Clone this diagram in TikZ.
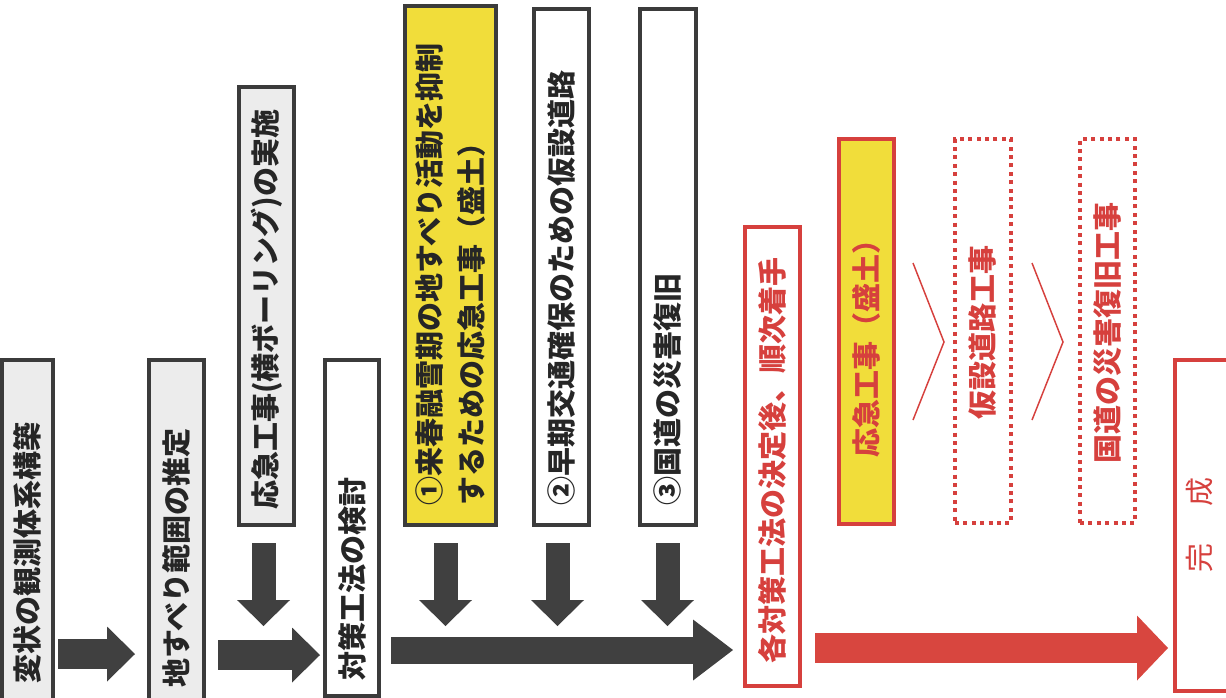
\documentclass[tikz,border=0pt]{standalone}
\usepackage{fontspec}
\setmainfont{Noto Sans CJK JP}
\usetikzlibrary{arrows.meta,calc}
\definecolor{dk}{HTML}{3B3B3B}
\definecolor{arr}{HTML}{404040}
\definecolor{gfill}{HTML}{ECECEC}
\definecolor{yel}{HTML}{F1DD3A}
\definecolor{rd}{HTML}{D6403D}
\definecolor{rarr}{HTML}{D8463F}
\definecolor{txt}{HTML}{262626}
\begin{document}
\begin{tikzpicture}[x=0.75pt,y=-0.75pt,
  box/.style={draw=dk, line width=3.3pt, rectangle, inner sep=0pt},
  gbox/.style={box, fill=gfill},
  wbox/.style={box, fill=white},
  ybox/.style={box, fill=yel},
  rbox/.style={draw=rd, line width=3pt, rectangle, inner sep=0pt, fill=white},
  rybox/.style={rbox, fill=yel},
  dbox/.style={draw=rd, line width=3pt, dash pattern=on 3pt off 3.3pt, rectangle, inner sep=0pt},
  vtext/.style={rotate=90, inner sep=0pt, font=\fontsize{21.75pt}{31pt}\selectfont\bfseries, text=txt},
  rtext/.style={vtext, text=rd},
  harr/.style={draw=arr, line width=22.5pt, -{Triangle[width=41.25pt,length=21pt,line width=0pt]}},
  longarr/.style={draw=arr, line width=20.25pt, -{Triangle[width=45.75pt,length=30pt,line width=0pt]}},
  redarr/.style={draw=rarr, line width=22.5pt, -{Triangle[width=48.75pt,length=23.25pt,line width=0pt]}},
  darr/.style={draw=arr, line width=18pt, -{Triangle[width=39.75pt,length=19.5pt,line width=0pt]}},
  chev/.style={draw=rd, line width=1.1pt, line join=miter}
]
\useasboundingbox (0,0) rectangle (1226,697);
\fill[white] (0,0) rectangle (1226,697);

% boxes
\node[gbox, minimum width=37.95pt, minimum height=254.7pt] (A) at (27.5,530) {};
\node[gbox, minimum width=40.95pt, minimum height=254.7pt] (B) at (176.5,530) {};
\node[gbox, minimum width=40.95pt, minimum height=328.2pt] (C) at (266.5,306) {};
\node[wbox, minimum width=40.2pt, minimum height=251.7pt] (D) at (352,528) {};
\node[ybox, minimum width=67.95pt, minimum height=388.95pt] (E) at (450.5,265.5) {};
\node[wbox, minimum width=40.95pt, minimum height=386.7pt] (F) at (561.5,267) {};
\node[wbox, minimum width=41.7pt, minimum height=386.7pt] (G) at (668,267) {};
\node[rbox, minimum width=41.25pt, minimum height=344.25pt] (H) at (772.5,456.5) {};
\node[rybox, minimum width=41.25pt, minimum height=288.75pt] (Y) at (866.5,331.5) {};
\node[dbox, minimum width=42pt, minimum height=288pt] (P1) at (983,331) {};
\node[dbox, minimum width=41.25pt, minimum height=288pt] (P2) at (1107.5,331) {};
\node[rbox, minimum width=41.25pt, minimum height=248.25pt] (K) at (1202.5,525.5) {};

% texts
\node[vtext, anchor=west] (At) at (27.5,684) {変状の観測体系構築};
\node[vtext, anchor=west] (Bt) at (176.5,688) {地すべり範囲の推定};
\node[vtext, anchor=west] (Ct) at (266.5,510) {応急工事(横ボーリング)の実施};
\node[vtext, anchor=west] (Dt) at (352,681) {対策工法の検討};
\node[vtext, anchor=west, align=left] (Et) at (450.5,506) {①来春融雪期の地すべり活動を抑制\\するための応急工事（盛土）};
\node[vtext, anchor=west] (Ft) at (561.5,506) {②早期交通確保のための仮設道路};
\node[vtext, anchor=west] (Gt) at (668,506) {③国道の災害復旧};
\node[rtext, anchor=west] (Ht) at (772.5,664) {各対策工法の決定後、順次着手};
\node[rtext] (Yt) at (866.5,341) {応急工事（盛土）};
\node[rtext] (P1t) at (983,332) {仮設道路工事};
\node[rtext] (P2t) at (1107.5,333) {国道の災害復旧工事};
\node[rtext, font=\fontsize{21.75pt}{31pt}\selectfont\mdseries] (Kt) at (1200,525) {完\hspace{1.25em}成};

% horizontal arrows
\draw[harr] ($(A.east|-0,654)+(3,0)$) -- ($(B.west|-0,654)+(-12,0)$);
\draw[harr] ($(B.east|-0,655)+(12,0)$) -- ($(D.west|-0,655)+(-3,0)$);
\draw[longarr] ($(D.east|-0,650)+(10,0)$) -- ($(H.west|-0,650)+(-10,0)$);
\draw[redarr] ($(H.east|-0,648)+(13,0)$) -- ($(K.west|-0,648)+(-5,0)$);

% down arrows
\draw[darr] ($(C.south)+(-3,16)$) -- ($(C.south)+(-3,99)$);
\draw[darr] ($(E.south)+(-5,16)$) -- ($(E.south)+(-5,99)$);
\draw[darr] ($(F.south)+(-4,16)$) -- ($(F.south)+(-4,99)$);
\draw[darr] ($(G.south)+(-0.5,16)$) -- ($(G.south)+(-0.5,99)$);

% chevrons
\draw[chev] (913,263) -- (944,342) -- (913,420);
\draw[chev] (1032,263) -- (1063,342) -- (1032,420);
\end{tikzpicture}
\end{document}
